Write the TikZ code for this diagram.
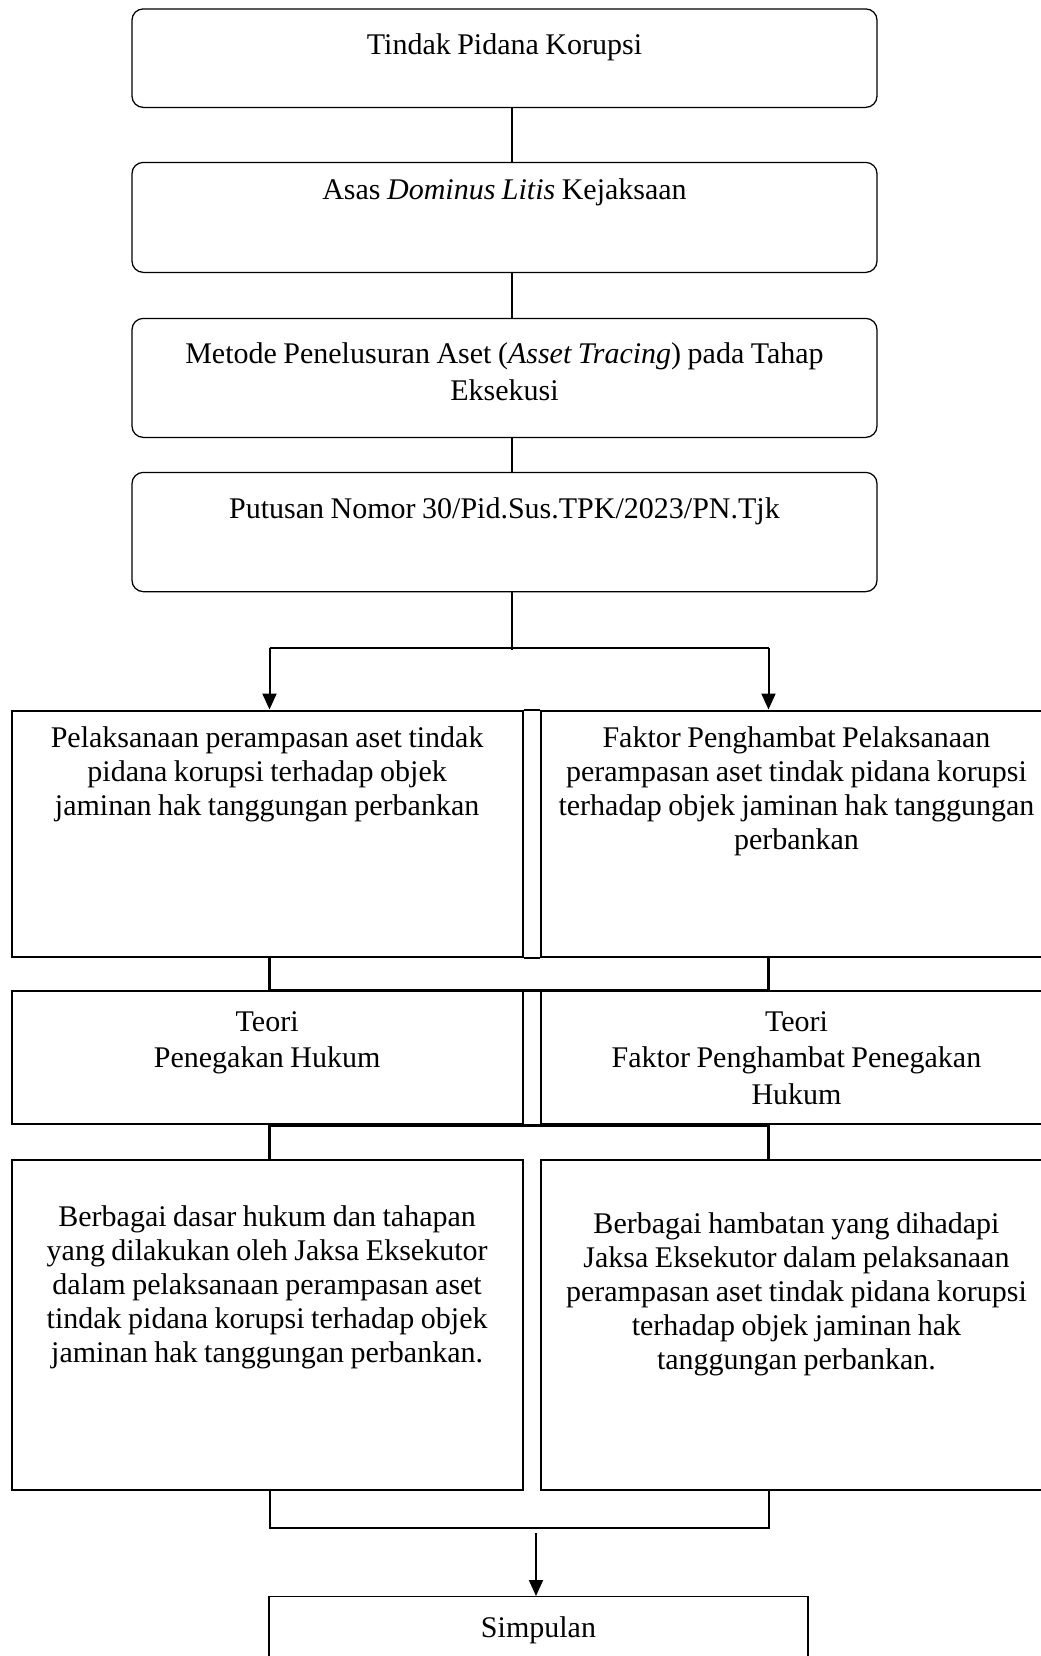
\documentclass[tikz,border=0pt]{standalone}
\usepackage{fontspec}
\setmainfont{Liberation Serif}
\usetikzlibrary{arrows.meta}
\def\boxfont#1{\fontsize{12}{#1}\selectfont}

\begin{document}
\begin{tikzpicture}[x=1pt, y=-1pt, font=\boxfont{13.6},
    every node/.style={execute at begin node={\spaceskip=2.6pt\relax}},
    stagebox/.style={draw, line width=0.5pt, rounded corners=4.5pt, anchor=north, inner xsep=2pt, inner ysep=0pt, text width=294pt, align=flush center},
    colbox/.style={draw, line width=0.8pt, anchor=north, inner xsep=2pt, inner ysep=0pt, text width=200.4pt, align=flush center},
    link/.style={line width=0.5pt},
    rim/.style={line width=0.8pt},
    bracket/.style={line width=1.2pt},
    flow/.style={line width=0.8pt, -{Triangle[length=6.4pt, width=5.6pt]}}]
  \useasboundingbox (0,0) rectangle (416.4,662.4);
  \clip (0,0) rectangle (416.4,662.4);

  % spine and branch columns
  \coordinate (spine) at (204.8,0);
  \coordinate (lx) at (107.8,0);
  \coordinate (rx) at (307.4,0);
  \coordinate (split) at (204.8,259.2);
  \coordinate (merge) at (214.4,611.2);

  % upper stages
  \node[stagebox, text height=18.4pt, text depth=21pt] (korupsi) at (201.8,3.3) {Tindak Pidana Korupsi};
  \node[stagebox, text height=14.9pt, text depth=29.1pt] (dominus) at (201.8,64.7) {Asas \textit{Dominus Litis} Kejaksaan};
  \node[stagebox, text height=18pt, text depth=29.6pt, font=\boxfont{14.9}] (tracing) at (201.8,127.1)
    {Metode Penelusuran Aset (\textit{Asset Tracing}) pada Tahap\\ Eksekusi};
  \node[stagebox, text height=18.4pt, text depth=29.3pt] (putusan) at (201.8,188.7) {Putusan Nomor 30/Pid.Sus.TPK/2023/PN.Tjk};

  % two columns
  \node[colbox, text height=14.8pt, text depth=83.7pt] (pelaksanaan) at (106.85,283.8)
    {Pelaksanaan perampasan aset tindak\\ pidana korupsi terhadap objek\\ jaminan hak tanggungan perbankan};
  \node[colbox, text height=14.8pt, text depth=83.7pt] (penghambat) at (318.6,283.8)
    {Faktor Penghambat Pelaksanaan\\ perampasan aset tindak pidana korupsi\\ terhadap objek jaminan hak tanggungan\\ perbankan};

  \node[colbox, text height=16pt, text depth=37.2pt, font=\boxfont{14.6}] (teoriA) at (106.85,396)
    {Teori\\ Penegakan Hukum};
  \node[colbox, text height=16pt, text depth=37.2pt, font=\boxfont{14.6}] (teoriB) at (318.6,396)
    {Teori\\ Faktor Penghambat Penegakan\\ Hukum};

  \node[colbox, text height=26.6pt, text depth=105.4pt] (dasar) at (106.85,463.4)
    {Berbagai dasar hukum dan tahapan\\ yang dilakukan oleh Jaksa Eksekutor\\ dalam pelaksanaan perampasan aset\\ tindak pidana korupsi terhadap objek\\ jaminan hak tanggungan perbankan.};
  \node[colbox, text height=29.4pt, text depth=102.6pt] (hambatan) at (318.6,463.4)
    {Berbagai hambatan yang dihadapi\\ Jaksa Eksekutor dalam pelaksanaan\\ perampasan aset tindak pidana korupsi\\ terhadap objek jaminan hak\\ tanggungan perbankan.};

  \node[colbox, line width=0.5pt, text width=211.6pt, text height=16.4pt, text depth=30pt] (simpulan) at (215.4,638.4) {Simpulan};

  % connectors
  \draw[link] (korupsi.south -| spine) -- (dominus.north -| spine);
  \draw[link] (dominus.south -| spine) -- (tracing.north -| spine);
  \draw[link] (tracing.south -| spine) -- (putusan.north -| spine);
  \draw[link] (putusan.south -| spine) -- ([yshift=-0.8pt]split);
  \draw[rim] (split -| lx) -- (split -| rx);
  \draw[flow] (split -| lx) -- (pelaksanaan.north -| lx);
  \draw[flow] (split -| rx) -- (penghambat.north -| rx);

  \draw[rim] (pelaksanaan.north east) -- (penghambat.north west) (pelaksanaan.south east) -- (penghambat.south west);
  \draw[rim] (teoriA.north east) -- (teoriB.north west) (teoriA.south east) -- (teoriB.south west);

  \draw[bracket] (pelaksanaan.south -| lx) -- (teoriA.north -| lx) -- (teoriB.north -| rx) -- (penghambat.south -| rx);
  \draw[bracket] (teoriA.south -| lx) -- (teoriB.south -| rx);
  \draw[bracket] (teoriA.south -| lx) -- (dasar.north -| lx);
  \draw[bracket] (teoriB.south -| rx) -- (hambatan.north -| rx);
  \draw[rim] (dasar.south -| lx) -- (merge -| lx) -- (merge -| rx) -- (hambatan.south -| rx);
  \draw[flow, shorten <=2pt] (merge) -- (simpulan.north -| merge);
\end{tikzpicture}
\end{document}
